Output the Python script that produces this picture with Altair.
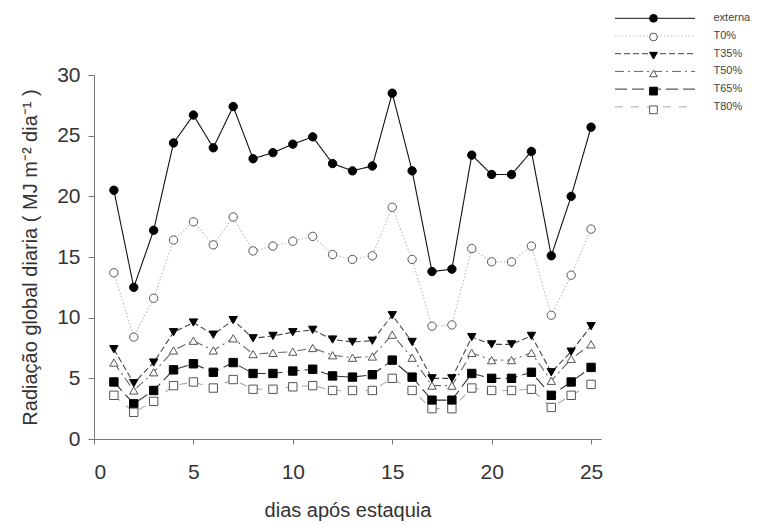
import altair as alt
import pandas as pd

dias = list(range(1, 26))
series_names = ["externa", "T0%", "T35%", "T50%", "T65%", "T80%"]
externa = [20.5, 12.5, 17.2, 24.4, 26.7, 24.0, 27.4, 23.1, 23.6, 24.3, 24.9, 22.7, 22.1,
           22.5, 28.5, 22.1, 13.8, 14.0, 23.4, 21.8, 21.8, 23.7, 15.1, 20.0, 25.7]
t0 = [13.7, 8.4, 11.6, 16.4, 17.9, 16.0, 18.3, 15.5, 15.9, 16.3, 16.7, 15.2, 14.8,
      15.1, 19.1, 14.8, 9.3, 9.4, 15.7, 14.6, 14.6, 15.9, 10.2, 13.5, 17.3]
t35 = [7.4, 4.6, 6.3, 8.8, 9.6, 8.6, 9.8, 8.3, 8.5, 8.8, 9.0, 8.2, 8.0,
       8.1, 10.2, 8.0, 5.0, 5.0, 8.4, 7.8, 7.8, 8.5, 5.5, 7.2, 9.3]
t50 = [6.3, 4.0, 5.5, 7.3, 8.1, 7.3, 8.3, 7.0, 7.1, 7.2, 7.5, 6.9, 6.7,
       6.8, 8.6, 6.7, 4.4, 4.4, 7.1, 6.5, 6.5, 7.1, 4.8, 6.6, 7.8]
t65 = [4.7, 2.9, 4.0, 5.7, 6.2, 5.5, 6.3, 5.4, 5.4, 5.6, 5.75, 5.2, 5.1,
       5.3, 6.5, 5.1, 3.2, 3.2, 5.4, 5.0, 5.0, 5.5, 3.6, 4.7, 5.9]
t80 = [3.6, 2.2, 3.1, 4.4, 4.7, 4.2, 4.9, 4.1, 4.1, 4.3, 4.4, 4.0, 4.0,
       4.0, 5.0, 4.0, 2.5, 2.5, 4.2, 4.0, 4.0, 4.1, 2.6, 3.6, 4.5]

all_vals = [externa, t0, t35, t50, t65, t80]
rows = []
for i, (name, vals) in enumerate(zip(series_names, all_vals)):
    for d, v in zip(dias, vals):
        rows.append({"dia": d, "rad": v, "serie": name, "marcador": i})
df = pd.DataFrame(rows)

line_colors = ["#111111", "#bbbbbb", "#444444", "#666666", "#333333", "#aaaaaa"]
dashes = [[1, 0], [1.5, 2], [6, 3], [9, 4, 2, 4], [12, 5], [8, 8]]
fills = ["black", "white", "black", "white", "black", "white"]
strokes = ["black", "#555555", "black", "#555555", "black", "#555555"]
shapes = ["circle", "circle", "triangle-down", "triangle-up", "square", "square"]

line_legend = dict(title=None, orient="none", legendX=555.5, legendY=-62.2,
                   symbolType="M-16,0H16", symbolSize=25, symbolStrokeWidth=1,
                   labelOffset=53, labelFontSize=11, labelColor="#444",
                   rowPadding=5.7, padding=0, symbolLimit=0)
mark_legend = dict(title=None, orient="none", legendX=554, legendY=-62.2,
                   symbolSize=60, symbolStrokeWidth=1, labelOffset=0,
                   labelExpr="''", labelFontSize=11,
                   rowPadding=5.7, padding=0, symbolLimit=0)

x_enc = alt.X("dia:Q", scale=alt.Scale(domain=[0, 25.5], nice=False),
              axis=alt.Axis(values=[0, 5, 10, 15, 20, 25], title="dias após estaquia",
                            titleX=253.5, titleY=71, titleBaseline="middle",
                            labelPadding=17, tickSize=5))
y_enc = alt.Y("rad:Q", scale=alt.Scale(domain=[0, 30], nice=False),
              axis=alt.Axis(values=[0, 5, 10, 15, 20, 25, 30],
                            title="Radiação global diaria  ( MJ m⁻² dia⁻¹ )",
                            titleX=-64, titleY=182, titleAngle=-90,
                            titleBaseline="middle", titleAlign="center",
                            labelPadding=8, tickSize=6))

lines = alt.Chart(df).mark_line(strokeWidth=1.1).encode(
    x=x_enc, y=y_enc,
    color=alt.Color("serie:N", scale=alt.Scale(domain=series_names, range=line_colors),
                    legend=alt.Legend(**line_legend)),
    strokeDash=alt.StrokeDash("serie:N", scale=alt.Scale(domain=series_names, range=dashes),
                              legend=alt.Legend(**line_legend)),
)

points = alt.Chart(df).mark_point(filled=True, size=70, strokeWidth=1, opacity=1).encode(
    x="dia:Q", y="rad:Q",
    shape=alt.Shape("marcador:N", scale=alt.Scale(range=shapes),
                    legend=alt.Legend(**mark_legend)),
    fill=alt.Fill("marcador:N", scale=alt.Scale(range=fills),
                  legend=alt.Legend(**mark_legend)),
    stroke=alt.Stroke("marcador:N", scale=alt.Scale(range=strokes),
                      legend=alt.Legend(**mark_legend)),
)

chart = alt.layer(lines, points).properties(
    width=507, height=364,
    padding={"left": 94, "top": 75, "right": 162, "bottom": 85},
    autosize=alt.AutoSizeParams(type="none"),
).configure_view(stroke=None).configure_axis(
    grid=False, domainColor="#777", tickColor="#777", labelColor="#333",
    titleColor="#333", labelFontSize=21, titleFontSize=20, titleFontWeight="normal",
    labelFont="Liberation Sans", titleFont="Liberation Sans",
).configure_legend(labelFont="Liberation Sans")

chart.save("out.html", embed_options={"renderer": "svg", "actions": False})
